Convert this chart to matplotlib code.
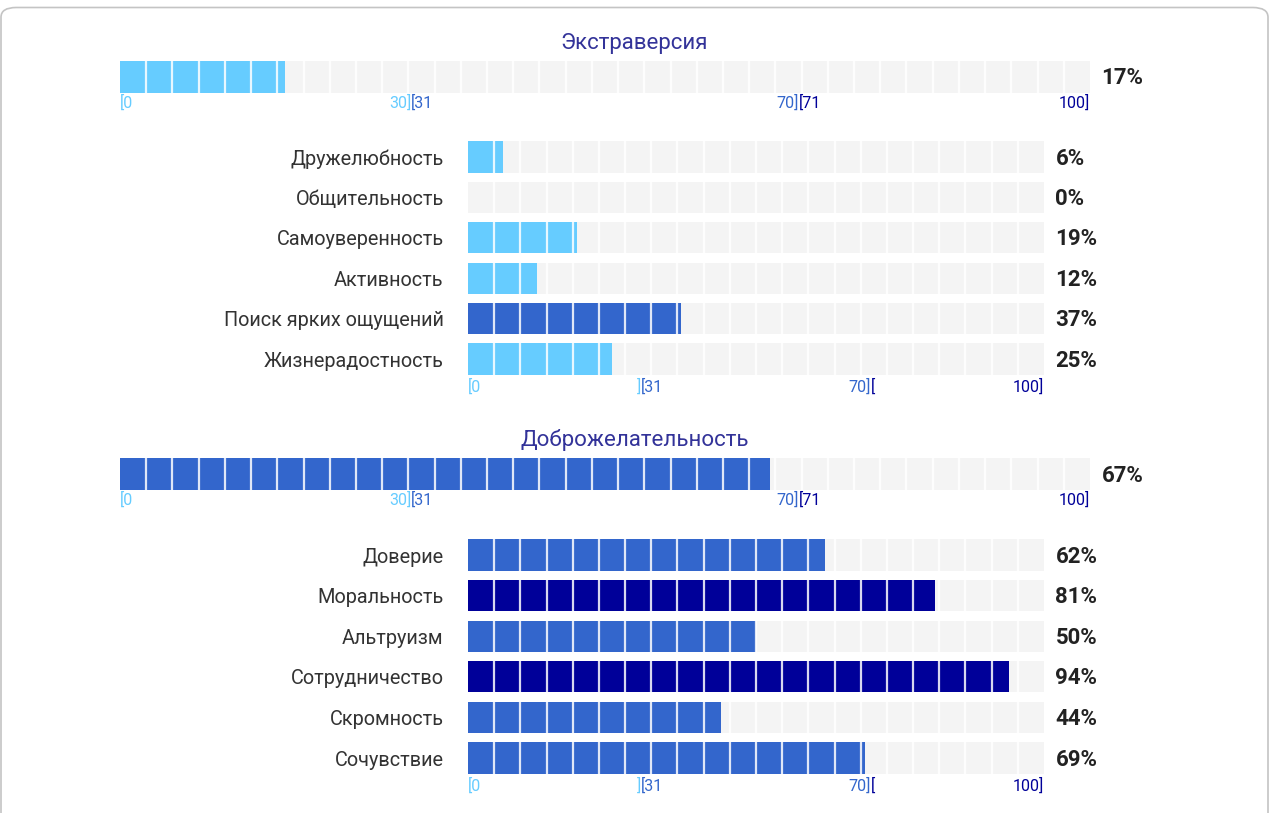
import numpy as np
import matplotlib
matplotlib.use("Agg")
import matplotlib.pyplot as plt
from matplotlib.patches import FancyBboxPatch

plt.rcParams['font.family'] = ['Roboto', 'DejaVu Sans']

# data
titles = ["Экстраверсия", "Доброжелательность"]
totals = [17, 67]
facets_1 = ["Дружелюбность", "Общительность", "Самоуверенность",
            "Активность", "Поиск ярких ощущений", "Жизнерадостность"]
values_1 = [6, 0, 19, 12, 37, 25]
facets_2 = ["Доверие", "Моральность", "Альтруизм",
            "Сотрудничество", "Скромность", "Сочувствие"]
values_2 = [62, 81, 50, 94, 44, 69]

# scale tick labels: (position, text, colour band)
scale_main = [(0, "[0", 0), (30, "30]", 0), (30, "[31", 1),
              (70, "70]", 1), (70, "[71", 2), (100, "100]", 2)]
scale_sub = [(0, "[0", 0), (30, "]", 0), (30, "[31", 1),
             (70, "70]", 1), (70, "[", 2), (100, "100]", 2)]

LIGHT, MID, DARK = "#66ccff", "#3366cc", "#000099"
BAND = [LIGHT, MID, DARK]
TRACK = "#f4f4f4"
W, H = 1269, 813
SEG_PX = 26.2


def band_color(v):
    if v <= 30:
        return LIGHT
    if v <= 70:
        return MID
    return DARK


def px_axes(fig, x0, x1, y0, y1):
    """axes from pixel box (top-left origin)"""
    return fig.add_axes([x0 / W, 1 - y1 / H, (x1 - x0) / W, (y1 - y0) / H])


def draw_bars(ax, vals, height, x0, x1):
    n = len(vals)
    rows = np.arange(n)
    ax.barh(rows, [100] * n, height=height, color=TRACK, zorder=1)
    ax.barh(rows, vals, height=height, color=[band_color(v) for v in vals], zorder=2)
    nseg = int(round((x1 - x0) / SEG_PX))
    for k in range(1, nseg):
        ax.axvline(100 * k / nseg, color="white", lw=1.6, alpha=0.85, zorder=3)
    ax.set_xlim(0, 100)
    ax.set_ylim(n - 0.5, -0.5)
    ax.set_xticks([])
    for s in ax.spines.values():
        s.set_visible(False)
    for r, v in zip(rows, vals):
        ax.annotate(f"{v}%", xy=(1, r), xycoords=("axes fraction", "data"),
                    xytext=(11.5, -1.5), textcoords="offset pixels",
                    ha="left", va="center", fontsize=16, fontweight="bold",
                    color="#222222")


def draw_scale(ax, ticks, dy):
    for pos, txt, b in ticks:
        ax.annotate(txt, xy=(pos, 0), xycoords=("data", "axes fraction"),
                    xytext=(0, dy), textcoords="offset pixels",
                    ha="left" if txt.startswith("[") else "right", va="top",
                    fontsize=11.5, color=BAND[b])


fig = plt.figure(figsize=(W / 100, H / 100), dpi=100)
fig.patch.set_facecolor("white")
fig.patches.append(FancyBboxPatch((1 / W, -0.1), (W - 2) / W, 1.1 - 7.5 / H,
                                  boxstyle="round,pad=0,rounding_size=0.012",
                                  transform=fig.transFigure, fill=False,
                                  ec="#c4c4c4", lw=1.2))

blocks = [
    (titles[0], totals[0], facets_1, values_1, 43, (61, 93), (136.8, 379.2)),
    (titles[1], totals[1], facets_2, values_2, 440, (458, 490), (534.7, 778.3)),
]

for title, total, facets, vals, ty, (my0, my1), (sy0, sy1) in blocks:
    fig.text(0.5, 1 - ty / H, title, ha="center", va="center",
             fontsize=16, color="#333399")

    ax = px_axes(fig, 120, 1090, my0, my1)
    draw_bars(ax, [total], 1.0, 120, 1090)
    ax.set_yticks([])
    draw_scale(ax, scale_main, -2)

    ax2 = px_axes(fig, 468, 1044, sy0, sy1)
    draw_bars(ax2, vals, 0.77, 468, 1044)
    ax2.set_yticks(range(len(facets)), facets)
    ax2.tick_params(axis="y", length=0, pad=17.5, labelsize=14.3, labelcolor="#333333")
    draw_scale(ax2, scale_sub, 1)

fig.savefig("out.png", dpi=100, facecolor="white")
